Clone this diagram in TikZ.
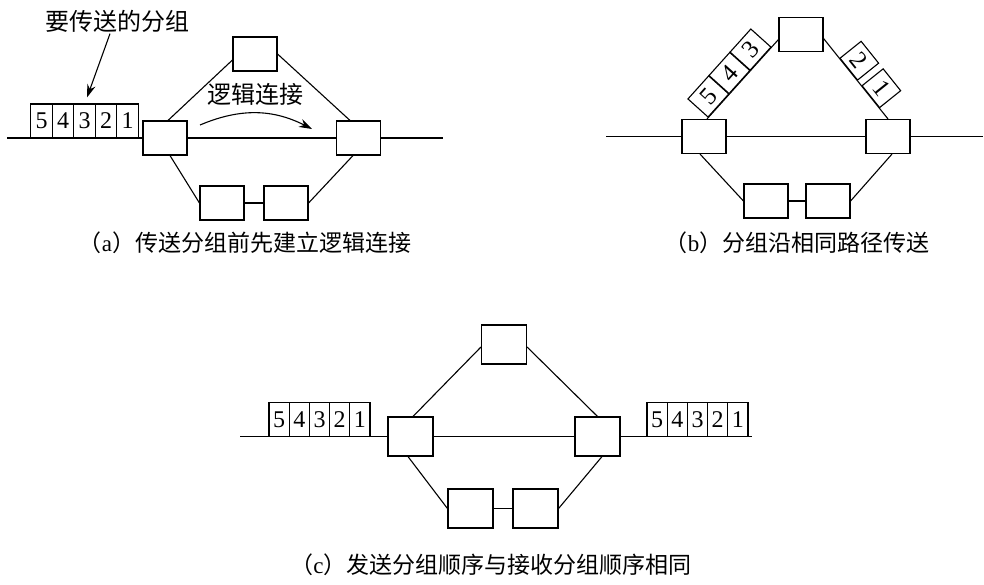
\documentclass[tikz,border=0pt]{standalone}
\usepackage{fontspec}
\setmainfont{Liberation Serif}
\newfontfamily\cjk{Noto Sans CJK SC}
\usetikzlibrary{arrows.meta,calc}
\begin{document}
\begin{tikzpicture}[x=1pt,y=-1pt,line width=1.1pt,
  box/.style={draw,fill=white,inner sep=0pt,minimum width=44pt,minimum height=34pt},
  cbox/.style={draw,fill=white,inner sep=0pt,minimum width=45pt,minimum height=39pt},
  cell/.style={draw,fill=white,inner sep=0pt,minimum width=21.5pt,minimum height=34pt,font=\fontsize{24}{24}\selectfont},
  ccell/.style={draw,fill=white,inner sep=0pt,minimum width=20.2pt,minimum height=34pt,font=\fontsize{24}{24}\selectfont},
  pkt/.style={draw,fill=white,inner sep=0pt,minimum width=31pt,minimum height=27pt,font=\fontsize{25}{25}\selectfont},
  pktr/.style={draw,fill=white,inner sep=0pt,minimum width=28pt,minimum height=27pt,font=\fontsize{25}{25}\selectfont},
  lab/.style={inner sep=1pt,font=\cjk\fontsize{24}{26}\selectfont},
  captxt/.style={inner sep=1pt,font=\fontsize{23}{24}\selectfont},
  arr/.style={-{Stealth[length=13pt,width=8.5pt]}}
]
\useasboundingbox (0,0) rectangle (984,584);

% ---------- (a) ----------
\node[box] (aL) at (165,138) {};
\node[box] (aR) at (358.5,138) {};
\node[box] (aT) at (255,54) {};
\node[box] (aB1) at (222,203) {};
\node[box] (aB2) at (286,203) {};
\coordinate (aS) at (7,138);
\coordinate (aE) at (443,138);
\draw (aS) -- (aL);
\draw (aL) -- (aR);
\draw (aR) -- (aE);
\draw ([xshift=3pt]aL.north) -- ([yshift=-6pt]aT.west);
\draw (aT.east) -- ([xshift=-8.5pt]aR.north);
\draw ([xshift=5pt]aL.south) -- (aB1.west);
\draw (aB1) -- (aB2);
\draw (aB2.east) -- ([xshift=-5.5pt]aR.south);
\node[cell] (a5) at (41.5,121) {5};
\node[cell] (a4) at (63,121) {4};
\node[cell] (a3) at (84.5,121) {3};
\node[cell] (a2) at (106,121) {2};
\node[cell] (a1) at (127.5,121) {1};
\node[lab] (lbl) at (117,21) {要传送的分组};
\draw[arr] ([xshift=-7pt]lbl.south) -- ([xshift=2.5pt,yshift=6pt]a3.north);
\node[lab] (lc) at (255,94) {逻辑连接};
\coordinate (ac1) at (200,125);
\coordinate (ac2) at (312,129);
\draw[arr] (ac1) to[bend left=25] (ac2);
\node[captxt] (capa) at (245,243) {{\cjk （}a{\cjk ）传送分组前先建立逻辑连接}};

% ---------- (b) ----------
\node[box] (bL) at (704,136.5) {};
\node[box] (bR) at (888,136.5) {};
\node[box] (bT) at (801,34.5) {};
\node[box] (bB1) at (766,201) {};
\node[box] (bB2) at (828,201) {};
\coordinate (bS) at (606,136.5);
\coordinate (bE) at (983,136.5);
\draw (bS) -- (bL);
\draw (bL) -- (bR);
\draw (bR) -- (bE);
\coordinate (bl1) at ([xshift=3pt]bL.north);
\coordinate (bl2) at ([yshift=-5pt]bT.west);
\coordinate (br1) at ([yshift=-4pt]bT.east);
\coordinate (br2) at (bR.north);
\draw (bl1) -- (bl2)
  node[pkt,pos=0.165,sloped,anchor=south] (b5) {5}
  node[pkt,pos=0.46,sloped,anchor=south] (b4) {4}
  node[pkt,pos=0.755,sloped,anchor=south] (b3) {3};
\draw (br1) -- (br2)
  node[pktr,pos=0.385,sloped,anchor=south] (b2) {2}
  node[pktr,pos=0.727,sloped,anchor=south] (b1) {1};
\draw ([xshift=-4pt]bL.south) -- (bB1.west);
\draw (bB1) -- (bB2);
\draw (bB2.east) -- ([xshift=4pt]bR.south);
\node[captxt] (capb) at (797,243) {{\cjk （}b{\cjk ）分组沿相同路径传送}};

% ---------- (c) ----------
\node[cbox] (cL) at (410.5,436.5) {};
\node[cbox] (cR) at (597.5,436.5) {};
\node[cbox] (cT) at (504,344.5) {};
\node[cbox] (cB1) at (470.5,508.5) {};
\node[cbox] (cB2) at (535.5,508.5) {};
\coordinate (cS) at (240,436.5);
\coordinate (cE) at (752,436.5);
\draw (cS) -- (cL);
\draw (cL) -- (cR);
\draw (cR) -- (cE);
\draw ([xshift=2.5pt]cL.north) -- ([yshift=-2.5pt]cT.west);
\draw ([yshift=-2.5pt]cT.east) -- (cR.north);
\draw ([xshift=-2.5pt]cL.south) -- (cB1.west);
\draw (cB1) -- (cB2);
\draw (cB2.east) -- ([xshift=4.5pt]cR.south);
\node[ccell] (c5) at (279.1,419.5) {5};
\node[ccell] (c4) at (299.3,419.5) {4};
\node[ccell] (c3) at (319.5,419.5) {3};
\node[ccell] (c2) at (339.7,419.5) {2};
\node[ccell] (c1) at (359.9,419.5) {1};
\node[ccell] (d5) at (657.1,419.5) {5};
\node[ccell] (d4) at (677.3,419.5) {4};
\node[ccell] (d3) at (697.5,419.5) {3};
\node[ccell] (d2) at (717.7,419.5) {2};
\node[ccell] (d1) at (737.9,419.5) {1};
\node[captxt] (capc) at (491,565) {{\cjk （}c{\cjk ）发送分组顺序与接收分组顺序相同}};
\end{tikzpicture}
\end{document}
